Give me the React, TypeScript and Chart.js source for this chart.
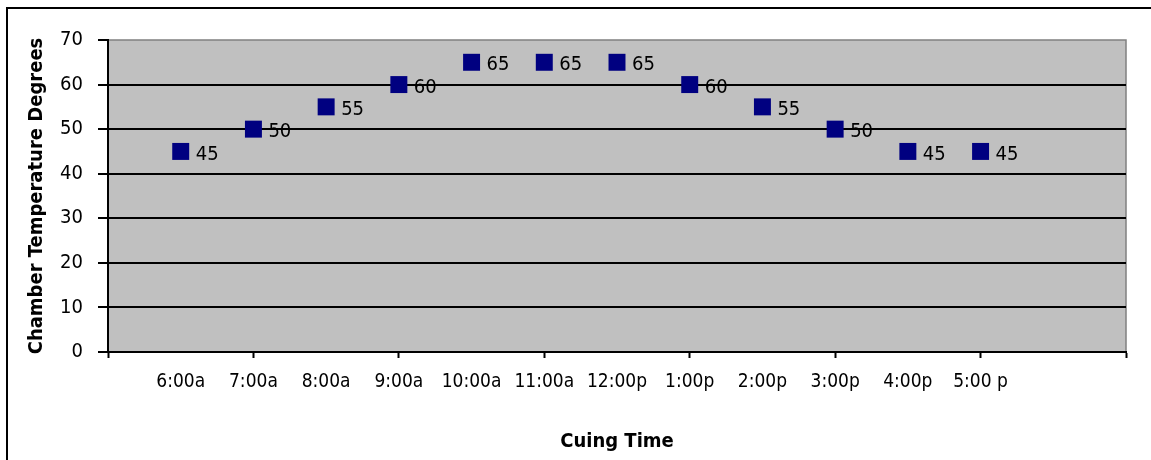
import React, { useEffect, useRef } from 'react';
import { Chart, registerables } from 'chart.js';

Chart.register(...registerables);

const timeLabels = ['6:00a', '7:00a', '8:00a', '9:00a', '10:00a', '11:00a', '12:00p', '1:00p', '2:00p', '3:00p', '4:00p', '5:00 p'];
const temperatures = [45, 50, 55, 60, 65, 65, 65, 60, 55, 50, 45, 45];
const positions = [1, 2, 3, 4, 5, 6, 7, 8, 9, 10, 11, 12];
const yMin = 0;
const yMax = 70;
const yStep = 10;
const xMin = 0;
const xMax = 14;

const FONT = "'Liberation Sans Narrow', 'Arial Narrow', 'DejaVu Sans Condensed', sans-serif";

const frame = {
  id: 'frame',
  beforeDraw(chart: any) {
    const { ctx, chartArea, width, height } = chart;
    ctx.save();
    ctx.fillStyle = '#fff';
    ctx.fillRect(0, 0, width, height);
    ctx.strokeStyle = '#000';
    ctx.lineWidth = 2;
    ctx.beginPath();
    ctx.moveTo(7, height + 5);
    ctx.lineTo(7, 8);
    ctx.lineTo(width + 5, 8);
    ctx.stroke();
    ctx.fillStyle = '#c0c0c0';
    ctx.fillRect(chartArea.left, chartArea.top, chartArea.right - chartArea.left, chartArea.bottom - chartArea.top);
    ctx.strokeStyle = '#808080';
    ctx.lineWidth = 1.5;
    ctx.strokeRect(chartArea.left, chartArea.top, chartArea.right - chartArea.left, chartArea.bottom - chartArea.top);
    ctx.restore();
  },
};

const valueLabels = {
  id: 'valueLabels',
  afterDatasetsDraw(chart: any) {
    const { ctx } = chart;
    const meta = chart.getDatasetMeta(0);
    ctx.save();
    ctx.font = `20px ${FONT}`;
    ctx.fillStyle = '#000';
    ctx.textAlign = 'left';
    ctx.textBaseline = 'middle';
    meta.data.forEach((el: any, i: number) => {
      ctx.fillText(String(temperatures[i]), el.x + 15, el.y + 3);
    });
    ctx.restore();
  },
};

export default function App() {
  const ref = useRef<HTMLCanvasElement>(null);
  useEffect(() => {
    document.body.style.margin = '0';
    document.body.style.overflow = 'hidden';
    const chart = new Chart(ref.current as HTMLCanvasElement, {
      type: 'scatter',
      data: {
        datasets: [
          {
            data: positions.map((x, i) => ({ x, y: temperatures[i] })),
            pointStyle: 'rect',
            pointRadius: 12,
            pointHoverRadius: 12,
            backgroundColor: '#000080',
            borderColor: '#000080',
            borderWidth: 0,
            showLine: false,
          },
        ],
      },
      options: {
        animation: false,
        responsive: false,
        devicePixelRatio: 1,
        layout: { padding: { left: 0, top: 40, right: 25, bottom: 0 } },
        plugins: { legend: { display: false }, tooltip: { enabled: false } },
        scales: {
          x: {
            type: 'linear',
            min: xMin,
            max: xMax,
            afterFit(scale: any) {
              scale.height = 108;
            },
            ticks: {
              stepSize: 1,
              autoSkip: false,
              maxRotation: 0,
              padding: 13,
              color: '#000',
              font: { family: FONT, size: 19 },
              callback: (v: any) => timeLabels[positions.indexOf(Number(v))] ?? '',
            },
            grid: {
              drawOnChartArea: false,
              drawTicks: true,
              tickLength: 6,
              tickWidth: 2,
              tickColor: (c: any) => (c.tick && c.tick.value % 2 === 0 ? '#000' : 'rgba(0,0,0,0)'),
            },
            border: { color: '#000', width: 2 },
            title: {
              display: true,
              text: 'Cuing Time',
              color: '#000',
              font: { family: FONT, size: 20, weight: 'bold' },
              padding: { top: 0, bottom: 6 },
            },
          },
          y: {
            min: yMin,
            max: yMax,
            afterFit(scale: any) {
              scale.width = 108;
            },
            ticks: {
              stepSize: yStep,
              padding: 15,
              color: '#000',
              font: { family: FONT, size: 20 },
            },
            grid: {
              color: (c: any) => (c.tick && c.tick.value === yMax ? 'rgba(0,0,0,0)' : '#000'),
              lineWidth: 2,
              tickLength: 10,
              tickWidth: 2,
              tickColor: '#000',
            },
            border: { color: '#000', width: 2 },
            title: {
              display: true,
              text: 'Chamber Temperature Degrees',
              color: '#000',
              font: { family: FONT, size: 20, weight: 'bold' },
              padding: { top: 25, bottom: 0 },
            },
          },
        },
      },
      plugins: [frame, valueLabels],
    });
    return () => chart.destroy();
  }, []);
  return <canvas ref={ref} width={1151} height={460} style={{ display: 'block' }} />;
}
